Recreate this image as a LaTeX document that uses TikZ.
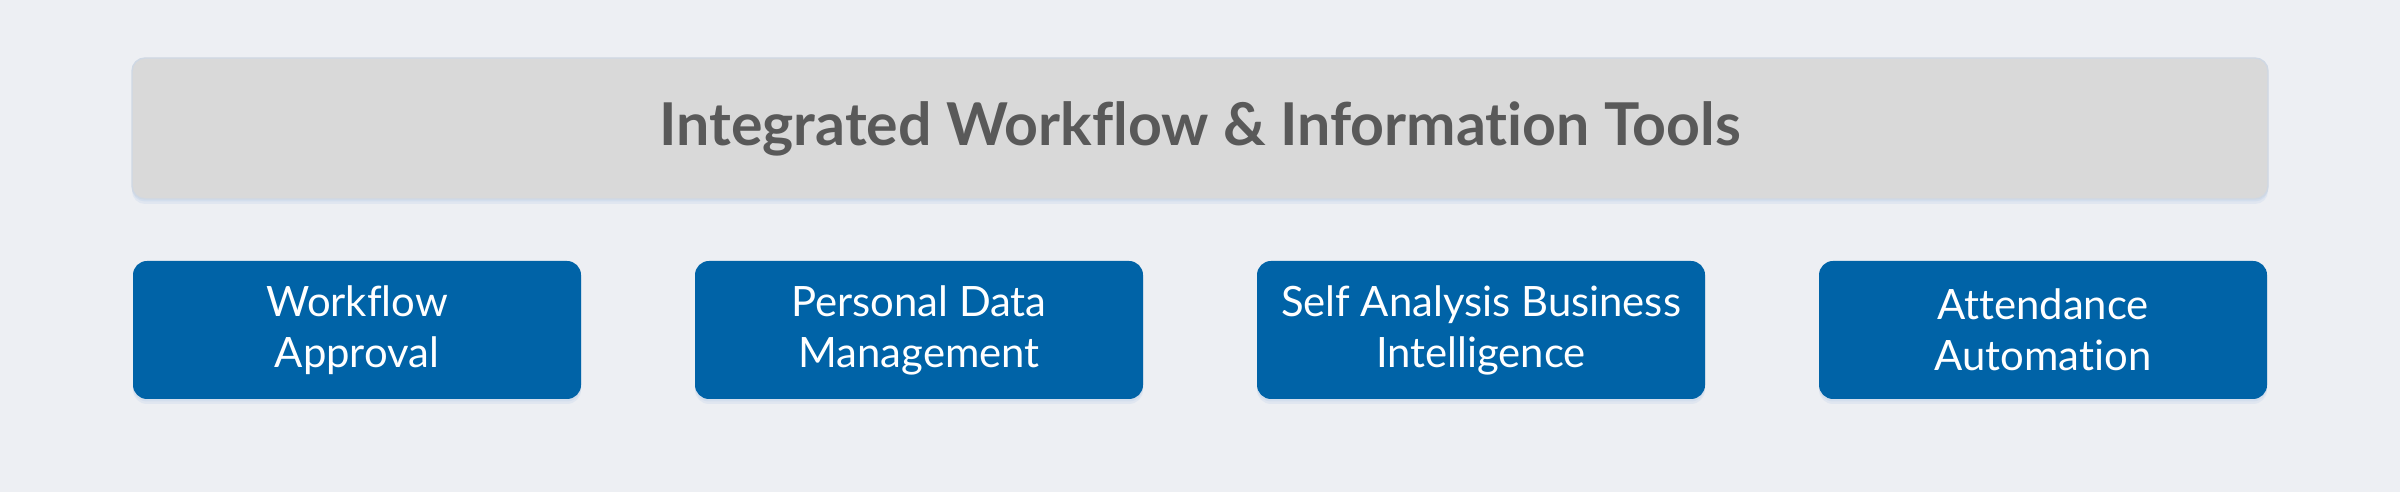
\documentclass[tikz,border=0pt]{standalone}
\usepackage{fontspec}
\setmainfont{Lato}[Ligatures={NoCommon}]
\usetikzlibrary{positioning, shadows}
\definecolor{Fondo}{RGB}{237,239,243}
\definecolor{Gris}{RGB}{217,217,217}
\definecolor{GrisTexto}{RGB}{89,89,89}
\definecolor{Azul}{RGB}{0,99,167}
\definecolor{Sombra}{RGB}{200,215,235}

\begin{document}
\begin{tikzpicture}[
        soft/.style={drop shadow={shadow xshift=0pt, shadow yshift=-0.05, fill=Sombra, opacity=0.35},
                     drop shadow={shadow xshift=0pt, shadow yshift=-0.025, fill=Sombra, opacity=0.5}},
        header/.style={rectangle, rounded corners=0.13cm, draw=Sombra!60!Gris, line width=0.4pt, fill=Gris, soft, minimum width=21.36cm, minimum height=1.41cm, align=center, text=GrisTexto, font=\fontsize{16.8}{20}\selectfont\bfseries},
        tool/.style={rectangle, rounded corners=0.14cm, fill=Azul, soft, minimum width=4.48cm, minimum height=1.38cm, align=center, text=white, font=\fontsize{11.9}{14.5}\selectfont}
    ]
        % Fondo con las proporciones del original
        \fill[Fondo] (0,0) rectangle (24,4.92);
        \useasboundingbox (0,0) rectangle (24,4.92);

        % Barra superior
        \node[header] (tools) at (12,3.635) {Integrated Workflow \& Information Tools};

        % Cuatro bloques de herramientas
        \node[tool] (flow) at (3.57,1.62) {Workflow\\Approval};
        \node[tool] (data) at (9.19,1.62) {Personal Data\\Management};
        \node[tool] (bi)   at (14.81,1.62) {Self Analysis Business\\Intelligence};
        \node[tool] (att)  at (20.43,1.62) {Attendance\\Automation};
    \end{tikzpicture}
\end{document}
